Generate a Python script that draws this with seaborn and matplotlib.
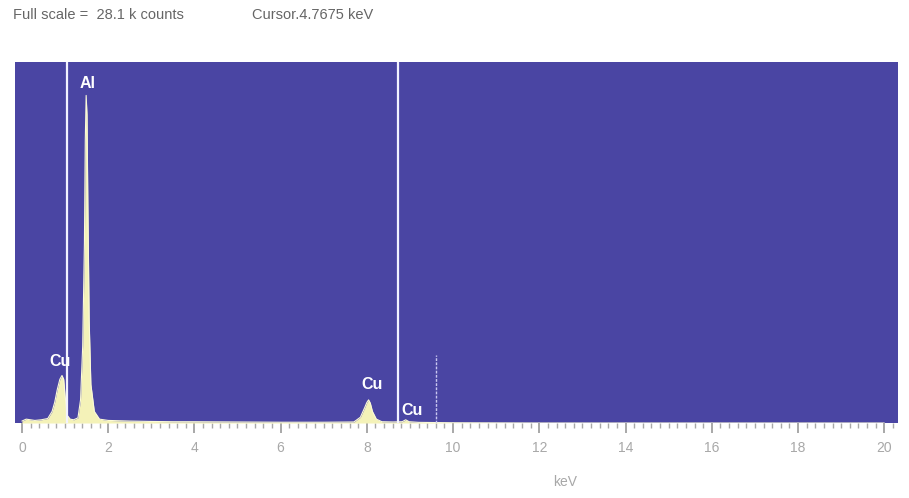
import matplotlib
matplotlib.use("Agg")
import matplotlib.pyplot as plt
import seaborn as sns
import pandas as pd
from matplotlib.ticker import MultipleLocator

sns.set_style("white")
plt.rcParams['font.family'] = ['Liberation Sans', 'DejaVu Sans']

# spectrum (keV, k counts)
energy = [0.00, 0.10, 0.20, 0.30, 0.45, 0.60, 0.70, 0.76, 0.82, 0.88, 0.93, 0.97,
          1.00, 1.05, 1.12, 1.20, 1.30, 1.36, 1.41, 1.45, 1.47, 1.49, 1.51, 1.53,
          1.56, 1.60, 1.68, 1.80, 2.00, 2.50, 3.00, 3.50, 4.00, 5.00, 6.00, 7.00,
          7.70, 7.85, 7.95, 8.00, 8.04, 8.08, 8.13, 8.22, 8.35, 8.60, 8.82, 8.90,
          8.98, 9.20, 10.0, 12.0, 14.0, 16.0, 18.0, 20.0]
counts = [0.15, 0.30, 0.25, 0.20, 0.25, 0.35, 0.90, 1.60, 2.60, 3.40, 3.70, 3.40,
          2.20, 0.60, 0.30, 0.25, 0.40, 1.80, 6.00, 14.0, 22.0, 25.5, 24.0, 17.0,
          8.00, 3.00, 0.90, 0.30, 0.20, 0.15, 0.12, 0.10, 0.10, 0.08, 0.06, 0.06,
          0.08, 0.45, 1.20, 1.60, 1.80, 1.55, 0.90, 0.30, 0.10, 0.08, 0.10, 0.25,
          0.10, 0.05, 0.02, 0.00, 0.00, 0.00, 0.00, 0.00]

full_scale = 28.1
cursor_lines = [1.04, 8.72]
marker_line = 9.6
marker_height = 5.3
peak_labels = ["Al", "Cu", "Cu", "Cu"]
label_x = [1.53, 0.88, 8.12, 9.05]
label_y = [26.4, 4.75, 2.96, 0.95]
xticks = [0, 2, 4, 6, 8, 10, 12, 14, 16, 18, 20]

df = pd.DataFrame({"keV": energy, "counts": counts})

bg = "#4a45a3"
fig = plt.figure(figsize=(9.09, 4.98), dpi=100)
ax = fig.add_axes([0.0165, 0.1506, 0.9715, 0.7249])
ax.set_facecolor(bg)

ax.fill_between(df["keV"], 0, df["counts"], color="#f4f2b8", lw=0, zorder=2)
sns.lineplot(data=df, x="keV", y="counts", ax=ax, color="#fbfad8", lw=0.8, zorder=3)

for cx in cursor_lines:
    ax.axvline(cx, color="#f2f2ff", lw=1.6, zorder=4)
ax.plot([marker_line, marker_line], [0, marker_height], color="#c9c6f0", lw=1.0,
        ls=(0, (2, 1)), zorder=4)

for t, x, y in zip(peak_labels, label_x, label_y):
    ax.text(x, y, t, color="white", fontsize=11.5, ha="center", va="center",
            fontweight="bold", zorder=5)

ax.set_xlim(-0.16, 20.32)
ax.set_ylim(0, full_scale)
ax.set_xticks(xticks)
ax.set_xticklabels([str(v) for v in xticks])
ax.xaxis.set_minor_locator(MultipleLocator(0.2))
ax.set_yticks([])
ax.tick_params(axis="x", which="both", bottom=True)
ax.tick_params(axis="x", which="major", direction="out", length=7, width=1.2,
               color="#9a9a9a", labelcolor="#a8a8a8", labelsize=10, pad=6)
ax.tick_params(axis="x", which="minor", direction="out", length=3.5, width=1,
               color="#a8a8a8")
ax.set_xlabel("")
ax.set_ylabel("")
for s in ax.spines.values():
    s.set_visible(False)

fig.text(565 / 909, 1 - 482 / 498, "keV", color="#a8a8a8", fontsize=10,
         ha="center", va="center")
fig.text(13 / 909, 1 - 15 / 498, "Full scale =  28.1 k counts", color="#666666",
         fontsize=10.5, ha="left", va="center")
fig.text(252 / 909, 1 - 15 / 498, "Cursor.4.7675 keV", color="#666666",
         fontsize=10.5, ha="left", va="center")

fig.savefig("out.png", dpi=100, facecolor="white")
